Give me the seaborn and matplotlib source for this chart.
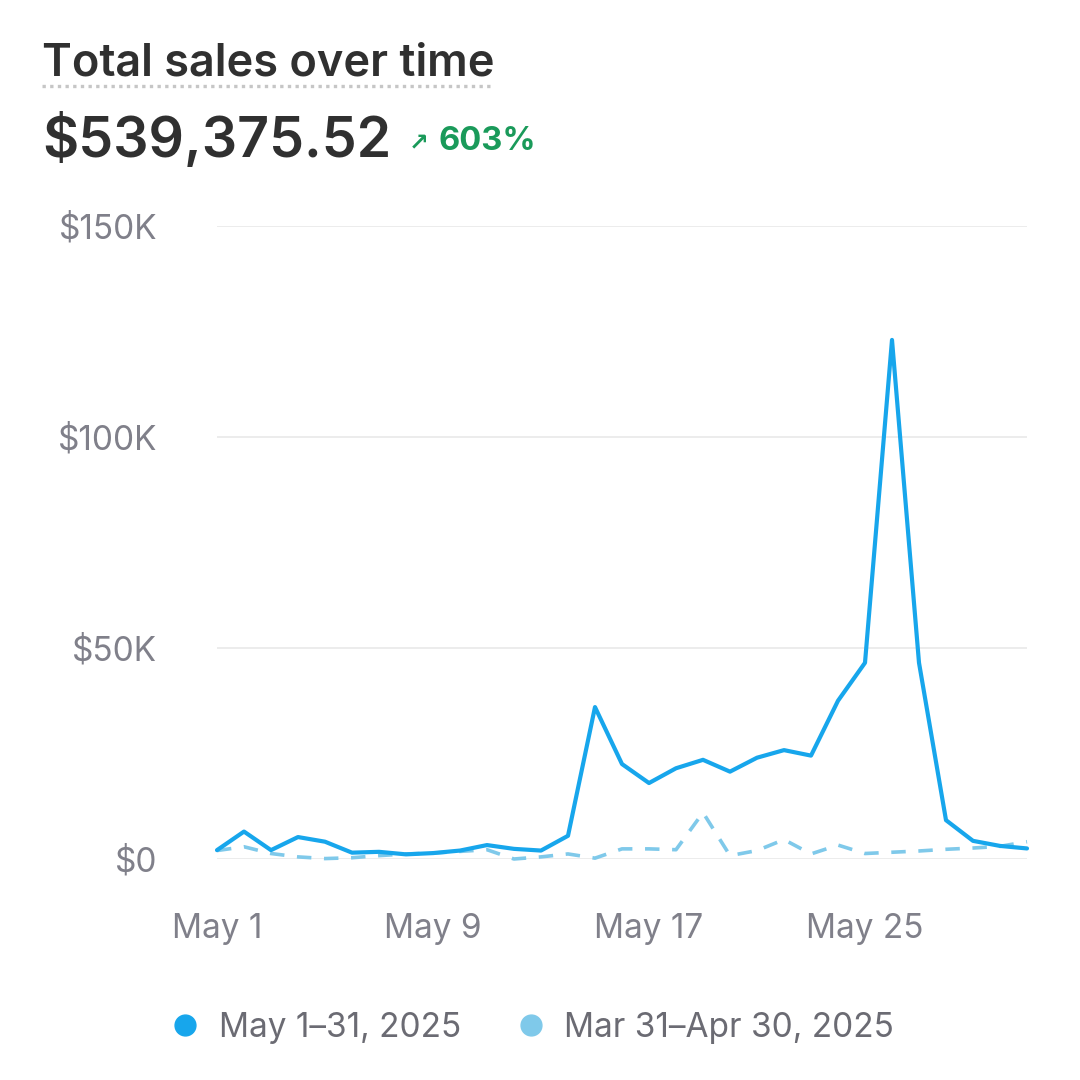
import pandas as pd
import matplotlib.pyplot as plt
import matplotlib.dates as mdates
from matplotlib.ticker import FuncFormatter
from matplotlib.lines import Line2D
import seaborn as sns

# Daily sales, May 1-31 2025 (current) and Mar 31-Apr 30 2025 (comparison), USD
days = pd.date_range('2025-05-01', '2025-05-31', freq='D')
sales_may = [2100, 6500, 2100, 5200, 4100, 1500, 1700, 1100, 1400, 2000,
             3300, 2400, 2000, 5500, 36000, 22500, 18000, 21500, 23500, 20700,
             24000, 25800, 24500, 37500, 46500, 123000, 46500, 9200, 4300, 3100,
             2500]
sales_prev = [2000, 2900, 1300, 500, 100, 300, 800, 1200, 1400, 1800,
              2200, 0, 500, 1200, 200, 2400, 2400, 2200, 11000, 800,
              2000, 4600, 1200, 3300, 1300, 1600, 1900, 2300, 2600, 3000,
              4100]
y_ticks = [0, 50000, 100000, 150000]
x_ticks = ['2025-05-01', '2025-05-09', '2025-05-17', '2025-05-25']
series_labels = ['May 1\u201331, 2025', 'Mar 31\u2013Apr 30, 2025']

df = pd.DataFrame({'day': days, 'current': sales_may, 'previous': sales_prev})

c_main = '#17a6ec'
c_prev = '#7fc9ea'
c_tick = '#80808a'

sns.set_theme(style='white')
plt.rcParams['font.family'] = ['Inter', 'DejaVu Sans']

fig = plt.figure(figsize=(10.8, 10.8), dpi=100)
ax = fig.add_axes([217 / 1080, 1 - 859 / 1080, (1027 - 217) / 1080, (859 - 226) / 1080])

sns.lineplot(data=df, x='day', y='previous', ax=ax, color=c_prev, lw=2.6,
             linestyle=(0, (4, 3.5)), clip_on=False, zorder=2)
sns.lineplot(data=df, x='day', y='current', ax=ax, color=c_main, lw=3.0,
             clip_on=False, zorder=3, solid_joinstyle='round')

ax.set_ylim(0, 150000)
ax.set_xlim(days[0], days[-1])
ax.set_yticks(y_ticks)
ax.yaxis.set_major_formatter(FuncFormatter(lambda v, p: '$0' if v == 0 else f'${v / 1000:.0f}K'))
ax.set_xticks(pd.to_datetime(x_ticks))
ax.xaxis.set_major_formatter(mdates.DateFormatter('%b %-d'))
ax.set_xlabel('')
ax.set_ylabel('')
ax.grid(axis='y', color='#ececec', lw=1.4)
ax.grid(axis='x', visible=False)
for s in ax.spines.values():
    s.set_visible(False)
ax.tick_params(axis='y', length=0, pad=43, labelsize=24, labelcolor=c_tick)
ax.tick_params(axis='x', length=0, pad=39, labelsize=24, labelcolor=c_tick)

# header
fig.text(42 / 1080, 1 - 76 / 1080, 'Total sales over time', fontsize=32.5,
         fontweight='semibold', color='#303030', va='baseline')
fig.add_artist(Line2D([42 / 1080, 493 / 1080], [1 - 86 / 1080] * 2,
                      transform=fig.transFigure, color='#c6c6c6', lw=2.4,
                      linestyle=(0, (1, 1.3))))
fig.text(42 / 1080, 1 - 157 / 1080, '$539,375.52', fontsize=40,
         fontweight='semibold', color='#303030', va='baseline')
fig.text(409 / 1080, 1 - 150 / 1080, '\u2197', fontsize=17, fontweight='bold',
         color='#1a9a5a', va='baseline', family=['DejaVu Sans'])
fig.text(439 / 1080, 1 - 150 / 1080, '603%', fontsize=23.5, fontweight='bold',
         color='#1a9a5a', va='baseline')

handles = [Line2D([], [], ls='none', marker='o', markersize=15, color=c_main),
           Line2D([], [], ls='none', marker='o', markersize=15, color=c_prev)]
fig.legend(handles, series_labels, loc='center', bbox_to_anchor=(0.492, 1 - 1028 / 1080),
           ncol=2, frameon=False, fontsize=24, labelcolor='#6b6b73',
           handletextpad=0.5, columnspacing=1.6, handlelength=1.0)

plt.savefig('out.png', dpi=100)
plt.close()
